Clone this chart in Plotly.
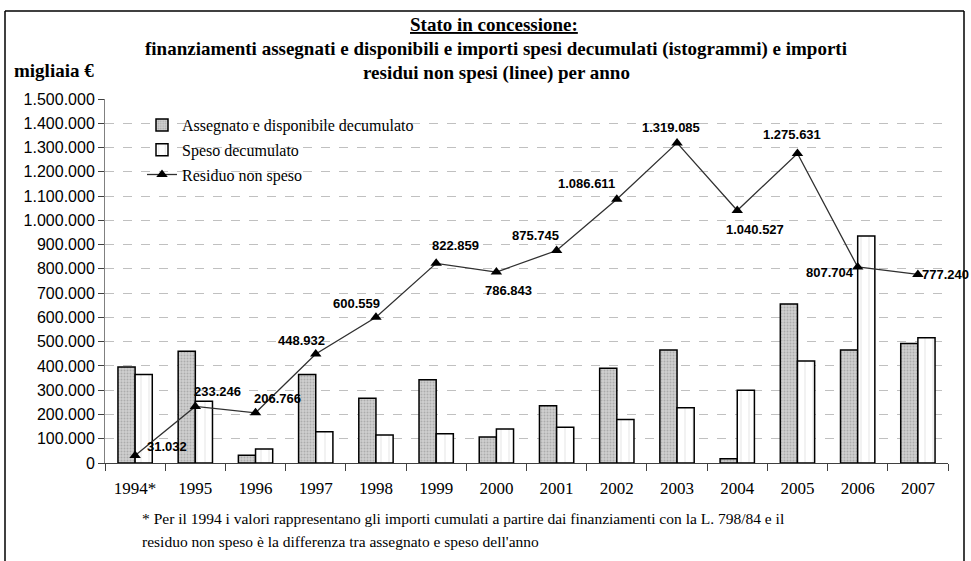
import plotly.graph_objects as go

years = ["1994*", "1995", "1996", "1997", "1998", "1999", "2000",
         "2001", "2002", "2003", "2004", "2005", "2006", "2007"]
assegnato = [396000, 461000, 32000, 365000, 267000, 343000, 107000,
             236000, 390000, 466000, 18000, 655000, 466000, 492000]
speso = [365000, 254000, 58000, 129000, 115000, 121000, 140000,
         147000, 179000, 228000, 300000, 420000, 935000, 516000]
residuo = [31032, 233246, 206766, 448932, 600559, 822859, 786843,
           875745, 1086611, 1319085, 1040527, 1275631, 807704, 777240]
y_ticks = list(range(0, 1500001, 100000))

# label pixel offsets (style)
label_shift = [(32, 9), (22, 15), (22, 14), (-14, 14), (-19, 14), (19, 18), (12, -18),
               (-21, 15), (-30, 16), (-6, 15), (18, -19), (-5, 19), (-28, -5), (28, 0)]

SERIF = "Liberation Serif, Times New Roman, serif"
SANS = "Liberation Sans, Arial, sans-serif"

W, H = 971, 561
# plot area in page pixels: left 105, right 948, top 99, bottom 463
ML, MT = 105, 99
MR, MB = W - 948, H - 463
PW, PH = W - ML - MR, H - MT - MB


def px(x):
    return (x - ML) / PW


def py(y):
    return (H - MB - y) / PH


fig = go.Figure()
fig.add_trace(go.Bar(
    x=years, y=assegnato, name="Assegnato e disponibile decumulato",
    marker=dict(color="#c4c4c4", line=dict(color="black", width=1.5),
                pattern=dict(shape=".", fgcolor="#8a8a8a", bgcolor="#cfcfcf", size=3, solidity=0.35)),
    legendgroup="a",
))
fig.add_trace(go.Bar(
    x=years, y=speso, name="Speso decumulato",
    marker=dict(color="white", line=dict(color="black", width=1.5),
                pattern=dict(shape="|", fgcolor="#c8c8c8", bgcolor="white", size=8, solidity=0.12)),
    legendgroup="b",
))
fig.add_trace(go.Scatter(
    x=years, y=residuo, name="Residuo non speso", mode="lines+markers",
    line=dict(color="#303030", width=1.3),
    marker=dict(symbol="triangle-up", size=10, color="black"),
    legendgroup="c",
))

ann = []
for i, (v, (dx, dy)) in enumerate(zip(residuo, label_shift)):
    ann.append(dict(x=i, y=v, xref="x", yref="y", text="<b>" + f"{v:,}".replace(",", ".") + "</b>",
                    showarrow=False, xshift=dx, yshift=dy, xanchor="center", yanchor="middle",
                    font=dict(family=SANS, size=13, color="black")))


def txt(x, y, s, size, xa="center"):
    ann.append(dict(x=px(x), y=py(y), xref="paper", yref="paper", showarrow=False,
                    xanchor=xa, yanchor="middle", text=s,
                    font=dict(family=SERIF, size=size, color="black")))


txt(494, 24, "<b><u>Stato in concessione:</u></b>", 19)
txt(496, 49, "<b>finanziamenti assegnati e disponibili e importi spesi decumulati (istogrammi) e importi</b>", 19)
txt(496, 73, "<b>residui non spesi (linee) per anno</b>", 19)
txt(12, 70, "<b>migliaia €</b>", 19, "left")
txt(140, 518, "* Per il 1994 i valori rappresentano gli importi cumulati a partire dai finanziamenti con la L. 798/84 e il", 15.5, "left")
txt(140, 541, "residuo non speso è la differenza tra assegnato e speso dell'anno", 15.5, "left")

shapes = [
    dict(type="line", xref="paper", yref="paper", x0=px(5), x1=px(5), y0=py(561), y1=py(11),
         line=dict(color="black", width=1.5)),
    dict(type="line", xref="paper", yref="paper", x0=px(5), x1=px(964), y0=py(11), y1=py(11),
         line=dict(color="black", width=1.5)),
    dict(type="line", xref="paper", yref="paper", x0=px(964), x1=px(964), y0=py(561), y1=py(11),
         line=dict(color="black", width=1.5)),
]

fig.update_layout(
    width=W, height=H, margin=dict(l=ML, r=MR, t=MT, b=MB, autoexpand=False),
    paper_bgcolor="white", plot_bgcolor="white",
    separators=",.",
    barmode="group", bargap=0.43, bargroupgap=0,
    showlegend=True,
    legend=dict(x=px(142), y=py(108), xanchor="left", yanchor="top",
                font=dict(family=SERIF, size=16, color="black"),
                bgcolor="rgba(0,0,0,0)", traceorder="grouped", tracegroupgap=1,
                itemwidth=30),
    annotations=ann, shapes=shapes,
    xaxis=dict(type="category", range=[-0.5, 13.5], showgrid=False, showline=True,
               linecolor="#404040", linewidth=1,
               ticks="outside", tickson="boundaries", ticklen=7, tickcolor="#404040",
               tickfont=dict(family=SERIF, size=17, color="black"), ticklabelstandoff=10),
    yaxis=dict(range=[0, 1500000], tickvals=y_ticks, tickformat=",d",
               showgrid=True, gridcolor="#c0c0c0", griddash="dash", gridwidth=1,
               showline=True, linecolor="#808080", linewidth=1, zeroline=False,
               ticks="outside", ticklen=6, tickcolor="#404040",
               tickfont=dict(family=SANS, size=16, color="black")),
)

fig.write_html("out.html", config={"displayModeBar": False},
               post_script="document.body.style.margin='0px';")
